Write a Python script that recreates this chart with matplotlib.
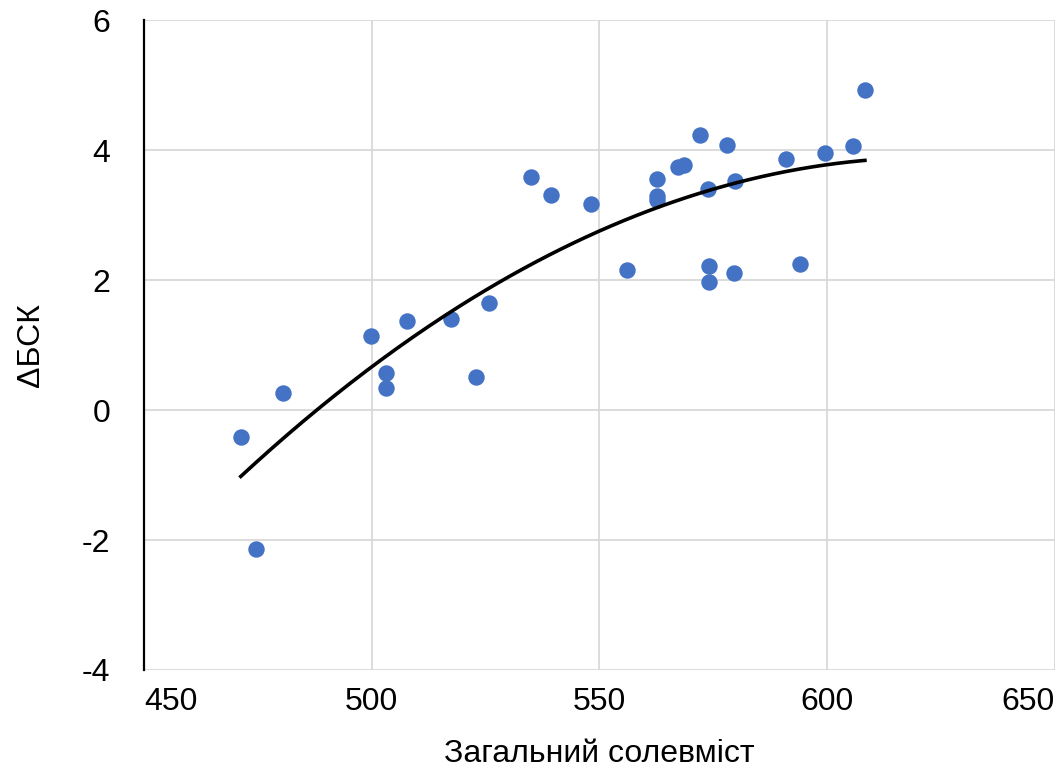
import numpy as np
import matplotlib
matplotlib.use("Agg")
import matplotlib.pyplot as plt

plt.rcParams['font.family'] = ['Liberation Sans', 'DejaVu Sans']

x_vals = [471.3, 474.6, 480.5, 499.8, 503.1, 503.1, 507.7, 517.5, 523.0, 525.7,
          534.9, 539.5, 548.2, 556.1, 562.7, 562.7, 562.7, 567.3, 568.6, 572.1,
          573.9, 574.1, 574.1, 578.1, 579.8, 579.6, 591.0, 594.1, 599.6, 605.7, 608.3]
y_vals = [-0.42, -2.14, 0.26, 1.14, 0.57, 0.34, 1.37, 1.40, 0.51, 1.65,
          3.58, 3.31, 3.17, 2.15, 3.55, 3.29, 3.23, 3.74, 3.77, 4.23,
          3.40, 2.22, 1.97, 4.08, 3.52, 2.11, 3.86, 2.25, 3.95, 4.06, 4.92]
x_ticks = [450, 500, 550, 600, 650]
y_ticks = [-4, -2, 0, 2, 4, 6]

fig = plt.figure(figsize=(10.57, 7.71), dpi=100)
ax = fig.add_axes([0.136, 0.131, 0.862, 0.843])

ax.scatter(x_vals, y_vals, s=140, color='#4472C4', zorder=3, linewidths=0)

coef = np.polyfit(x_vals, y_vals, 2)
xs = np.linspace(min(x_vals), max(x_vals), 200)
ax.plot(xs, np.polyval(coef, xs), color='black', lw=2.6, zorder=4)

ax.set_xlim(450, 650)
ax.set_ylim(-4, 6)
ax.set_xticks(x_ticks)
ax.set_yticks(y_ticks)
ax.set_xticklabels([str(t) for t in x_ticks])
ax.set_yticklabels([str(t) for t in y_ticks])
labs = ax.get_xticklabels()
labs[0].set_ha('left')
labs[-1].set_ha('right')
ax.grid(True, color='#d9d9d9', lw=1.3, zorder=0)
ax.set_axisbelow(True)
for s in ['top', 'right', 'bottom']:
    ax.spines[s].set_visible(False)
ax.spines['left'].set_linewidth(1.6)
ax.spines['left'].set_color('black')
ax.tick_params(axis='both', length=0, labelsize=23, colors='black')
ax.tick_params(axis='y', pad=24)
ax.tick_params(axis='x', pad=12)
ax.set_xlabel('Загальний солевміст', fontsize=23, labelpad=16)
ax.set_ylabel('ΔБСК', fontsize=23, labelpad=26)

fig.savefig('out.png', dpi=100)
